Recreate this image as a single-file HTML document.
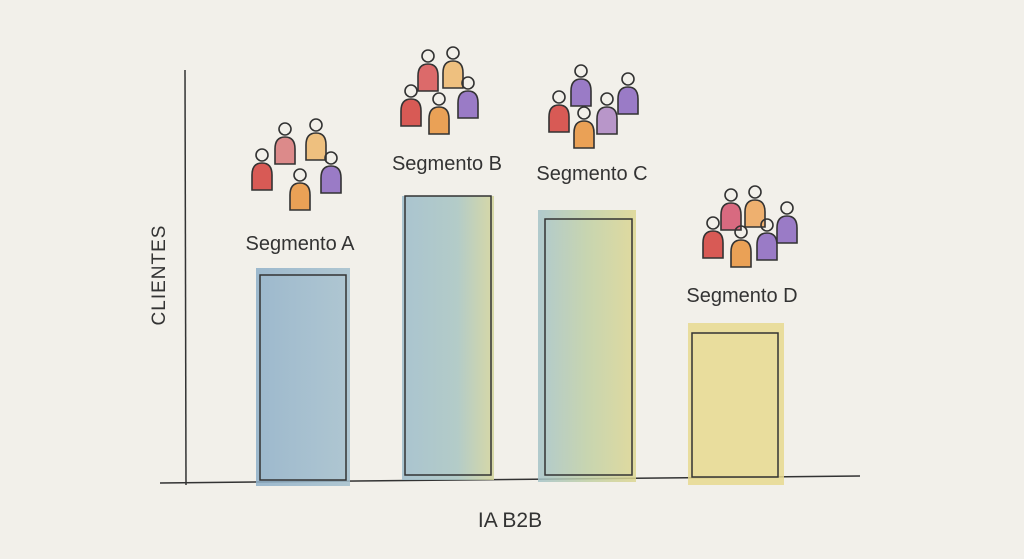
<!DOCTYPE html>
<html><head><meta charset="utf-8"><style>
html,body{margin:0;padding:0;background:#f2f0ea}
svg{display:block}
text{font-family:"Liberation Sans",sans-serif;fill:#333}
</style></head><body>
<svg width="1024" height="559" viewBox="0 0 1024 559" xmlns="http://www.w3.org/2000/svg">
<defs>
<symbol id="p" overflow="visible">
<path d="M-10,34 L-10,19 Q-10,7 0,7 Q10,7 10,19 L10,34 Z" stroke="#333" stroke-width="1.6"/>
<circle cx="0" cy="-1" r="6" fill="none" stroke="#333" stroke-width="1.6"/>
</symbol>
<linearGradient id="gB" x1="0" x2="1"><stop offset="0" stop-color="#9dbccb"/><stop offset="0.6" stop-color="#a8c5c2"/><stop offset="1" stop-color="#d3d49a"/></linearGradient>
<linearGradient id="gC" x1="0" x2="1"><stop offset="0" stop-color="#a5c3c8"/><stop offset="0.5" stop-color="#c0d0a6"/><stop offset="1" stop-color="#ddd691"/></linearGradient>
<linearGradient id="gA" x1="0" x2="1"><stop offset="0" stop-color="#8eafc8"/><stop offset="1" stop-color="#a3bfcd"/></linearGradient>
</defs>
<rect width="1024" height="559" fill="#f2f0ea"/>
<path d="M185,70 L186,485" stroke="#333" stroke-width="1.5" fill="none"/>
<path d="M160,483 L860,476" stroke="#333" stroke-width="1.5" fill="none"/>
<rect x="256" y="268" width="94" height="218" fill="url(#gA)" opacity="0.85"/>
<rect x="260" y="275" width="86" height="205" fill="none" stroke="#333" stroke-width="1.5"/>
<rect x="402" y="196" width="92" height="284" fill="url(#gB)" opacity="0.85"/>
<rect x="405" y="196" width="86" height="279" fill="none" stroke="#333" stroke-width="1.5"/>
<rect x="538" y="210" width="98" height="272" fill="url(#gC)" opacity="0.85"/>
<rect x="545" y="219" width="87" height="256" fill="none" stroke="#333" stroke-width="1.5"/>
<rect x="688" y="323" width="96" height="162" fill="#e8d98f" opacity="0.85"/>
<rect x="692" y="333" width="86" height="144" fill="none" stroke="#333" stroke-width="1.5"/>
<use href="#p" x="285" y="130" fill="#dc8a8a"/>
<use href="#p" x="316" y="126" fill="#eec07f"/>
<use href="#p" x="262" y="156" fill="#d85a55"/>
<use href="#p" x="331" y="159" fill="#9a7bc6"/>
<use href="#p" x="300" y="176" fill="#eaa156"/>
<use href="#p" x="428" y="57" fill="#dc6a6a"/>
<use href="#p" x="453" y="54" fill="#eec07f"/>
<use href="#p" x="411" y="92" fill="#d85a55"/>
<use href="#p" x="468" y="84" fill="#9a7bc6"/>
<use href="#p" x="439" y="100" fill="#eaa156"/>
<use href="#p" x="581" y="72" fill="#9a7bc6"/>
<use href="#p" x="628" y="80" fill="#9a7bc6"/>
<use href="#p" x="559" y="98" fill="#d85a55"/>
<use href="#p" x="607" y="100" fill="#b896c9"/>
<use href="#p" x="584" y="114" fill="#eaa156"/>
<use href="#p" x="731" y="196" fill="#d86a80"/>
<use href="#p" x="755" y="193" fill="#eeb06f"/>
<use href="#p" x="787" y="209" fill="#9a7bc6"/>
<use href="#p" x="713" y="224" fill="#d85a55"/>
<use href="#p" x="767" y="226" fill="#9a7bc6"/>
<use href="#p" x="741" y="233" fill="#eaa156"/>
<text x="300" y="250" font-size="20" text-anchor="middle">Segmento A</text>
<text x="447" y="170" font-size="20" text-anchor="middle">Segmento B</text>
<text x="592" y="180" font-size="20" text-anchor="middle">Segmento C</text>
<text x="742" y="302" font-size="20" text-anchor="middle">Segmento D</text>
<text x="0" y="0" font-size="19" text-anchor="middle" transform="translate(165,275) rotate(-90)" letter-spacing="1">CLIENTES</text>
<text x="510" y="527" font-size="21" text-anchor="middle">IA B2B</text>
</svg>
</body></html>
